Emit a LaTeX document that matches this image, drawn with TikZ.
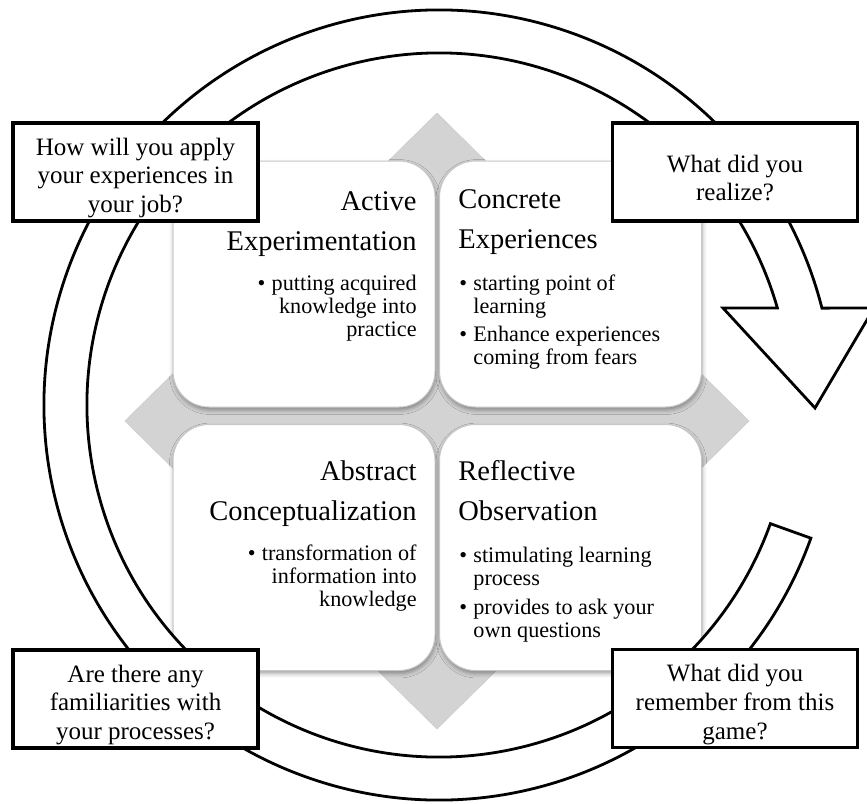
\documentclass[tikz,border=0pt]{standalone}
\usepackage{fontspec}
\setmainfont{Liberation Serif}
\usetikzlibrary{calc,shadows.blur}

\definecolor{diamondgray}{RGB}{211,211,211}
\definecolor{quadline}{RGB}{200,200,200}

\newcommand{\headtext}{\fontsize{14.25}{20.25}\selectfont}
\newcommand{\itemtext}{\fontsize{11.1}{11.6}\selectfont}
\newcommand{\bul}{\makebox[7pt][l]{•}}

\begin{document}
\begin{tikzpicture}[x=0.5pt,y=0.5pt,
  quad/.style={draw=quadline, fill=white, line width=0.5pt,
    rounded corners=18pt, minimum width=131pt, minimum height=123pt,
    inner sep=0pt,
    blur shadow={shadow xshift=0.4pt, shadow yshift=-1.5pt,
      shadow blur radius=2.2pt, shadow opacity=38}},
  ringarrow/.style={draw=black, fill=white, line width=1.4pt, line join=miter},
  question/.style={draw=black, fill=white, line width=1.7pt,
    minimum width=122.5pt, minimum height=49pt, inner sep=0pt},
  qtext/.style={inner sep=0pt, align=center, yshift=-3pt,
    font=\fontsize{12.5}{14.4}\selectfont},
  textblock/.style={inner sep=0pt}
]
\useasboundingbox (0,0) rectangle (867,-803);
\coordinate (C) at (439,-405);

% grey diamond behind the four quadrants
\filldraw[fill=diamondgray, draw=black!20, line width=0.3pt]
  (437,-113) -- (749,-421) -- (437,-729) -- (125,-421) -- cycle;

% the four quadrants
\node[quad] (ae) at (304,-284) {};
\node[quad] (ce) at (570.5,-284) {};
\node[quad] (ac) at (304,-547.5) {};
\node[quad] (ro) at (570.5,-547.5) {};

% Active Experimentation
\node[textblock, anchor=base east] (aeh) at (417,-210)
  {\parbox[t]{125pt}{\headtext\raggedleft Active\\Experimentation\par}};
\node[textblock, anchor=base east] (aeb) at (417,-290)
  {\parbox[t]{125pt}{\itemtext\raggedleft \bul putting acquired\\knowledge into\\practice\par}};

% Concrete Experiences
\node[textblock, anchor=base west] (ceh) at (458,-208)
  {\parbox[t]{125pt}{\headtext\raggedright Concrete\\Experiences\par}};
\node[textblock, anchor=base west] (ceb) at (459,-290)
  {\parbox[t]{125pt}{\itemtext\raggedright \bul starting point of\\\hspace*{7pt}learning\\[2.5pt]\bul Enhance experiences\\\hspace*{7pt}coming from fears\par}};

% Abstract Conceptualization
\node[textblock, anchor=base east] (ach) at (417,-480)
  {\parbox[t]{125pt}{\headtext\raggedleft Abstract\\Conceptualization\par}};
\node[textblock, anchor=base east] (acb) at (417,-560)
  {\parbox[t]{125pt}{\itemtext\raggedleft \bul transformation of\\information into\\knowledge\par}};

% Reflective Observation
\node[textblock, anchor=base west] (roh) at (458,-480)
  {\parbox[t]{125pt}{\headtext\raggedright Reflective\\Observation\par}};
\node[textblock, anchor=base west] (rob) at (459,-562)
  {\parbox[t]{125pt}{\itemtext\raggedright \bul stimulating learning\\\hspace*{7pt}process\\[3pt]\bul provides to ask your\\\hspace*{7pt}own questions\par}};

% circular arrow around the matrix
\draw[ringarrow]
  ($(C)+(-19.7:352)$) -- ($(C)+(-19.7:395)$)
  arc[start angle=-19.7, end angle=-345.8, radius=395]
  -- (874,-308) -- (815,-408) -- (723,-308)
  -- ($(C)+(16:352)$)
  arc[start angle=16, end angle=340.3, radius=352] -- cycle;

% reflection questions
\node[question] (q1) at (135.5,-172) {};
\node[qtext] (q1t) at (q1.center) {How will you apply\\your experiences in\\your job?};
\node[question] (q2) at (735,-172) {};
\node[qtext] (q2t) at (q2.center) {What did you\\realize?};
\node[question] (q3) at (135.5,-699) {};
\node[qtext] (q3t) at (q3.center) {Are there any\\familiarities with\\your processes?};
\node[question] (q4) at (735,-698.5) {};
\node[qtext] (q4t) at (q4.center) {What did you\\remember from this\\game?};
\end{tikzpicture}
\end{document}
